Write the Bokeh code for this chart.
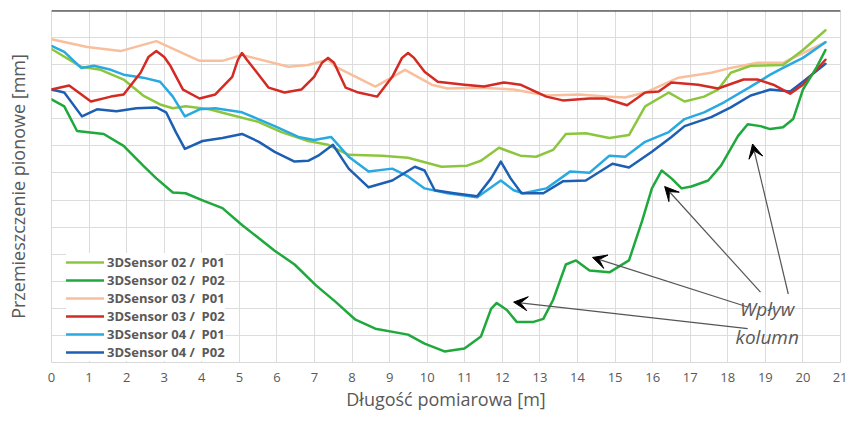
from bokeh.plotting import figure
from bokeh.models import (Legend, LegendItem, Span, Arrow, VeeHead, Label,
                          FixedTicker, Range1d)
from bokeh.embed import file_html
from bokeh.resources import INLINE

# ---------------- data (x in m, y = vertical displacement, one grid step = 1 unit) ----
x_ticks = list(range(0, 22))

s02p01_x = [0, 0.79, 1.31, 1.92, 2.44, 2.89, 3.23, 3.57, 4.20, 4.81, 5.52, 6.12, 6.83, 7.36,
            7.91, 8.80, 9.49, 10.38, 11.06, 11.43, 11.91, 12.48, 12.90, 13.35, 13.69, 14.22,
            14.85, 15.37, 15.80, 16.43, 16.85, 17.37, 17.74, 18.08, 18.61, 19.47, 20.00, 20.6]
s02p01_y = [-1.42, -2.08, -2.19, -2.55, -3.14, -3.47, -3.61, -3.54, -3.65, -3.87, -4.12, -4.49,
            -4.82, -4.96, -5.33, -5.36, -5.44, -5.77, -5.73, -5.55, -5.07, -5.36, -5.40, -5.15,
            -4.56, -4.53, -4.71, -4.60, -3.54, -3.03, -3.36, -3.18, -2.92, -2.30, -2.04, -2.01,
            -1.46, -0.73]

s02p02_x = [0, 0.34, 0.68, 1.39, 1.92, 2.44, 2.79, 3.23, 3.57, 4.02, 4.55, 5.07, 5.94, 6.47,
            7.04, 7.57, 8.09, 8.62, 9.49, 9.93, 10.46, 10.99, 11.43, 11.70, 11.85, 12.12, 12.38,
            12.83, 13.09, 13.35, 13.69, 13.96, 14.32, 14.85, 15.37, 15.72, 15.98, 16.24, 16.50,
            16.77, 17.03, 17.48, 17.82, 18.27, 18.53, 18.87, 19.13, 19.47, 19.74, 20.00, 20.37,
            20.6]
s02p02_y = [-3.28, -3.54, -4.45, -4.56, -5.00, -5.73, -6.20, -6.72, -6.75, -7.01, -7.30, -7.92,
            -8.87, -9.38, -10.15, -10.77, -11.42, -11.75, -11.97, -12.30, -12.59, -12.48, -12.04,
            -11.02, -10.80, -11.06, -11.50, -11.50, -11.39, -10.69, -9.38, -9.23, -9.60, -9.67,
            -9.23, -7.77, -6.57, -5.91, -6.20, -6.57, -6.50, -6.28, -5.73, -4.64, -4.20, -4.27,
            -4.38, -4.31, -4.01, -2.92, -2.08, -1.46]

s03p01_x = [0, 0.95, 1.84, 2.79, 3.94, 4.55, 5.07, 6.31, 6.83, 7.36, 7.57, 8.62, 9.41, 10.12,
            10.54, 11.43, 12.30, 13.17, 14.06, 14.74, 15.27, 15.80, 16.69, 17.56, 18.08, 18.79,
            19.47, 20.00, 20.6]
s03p01_y = [-1.06, -1.35, -1.50, -1.13, -1.86, -1.86, -1.64, -2.08, -2.01, -1.82, -2.08, -2.81,
            -2.19, -2.74, -2.88, -2.85, -2.92, -3.14, -3.10, -3.18, -3.21, -3.03, -2.48, -2.30,
            -2.12, -1.93, -1.93, -1.57, -1.17]

s03p02_x = [0, 0.47, 1.05, 1.58, 1.92, 2.37, 2.58, 2.79, 3.00, 3.15, 3.50, 3.94, 4.36, 4.81,
            4.96, 5.07, 5.20, 5.41, 5.78, 6.20, 6.65, 6.99, 7.20, 7.36, 7.52, 7.83, 8.17, 8.67,
            9.07, 9.33, 9.49, 9.65, 9.93, 10.28, 10.99, 11.51, 12.04, 12.48, 13.17, 13.61, 14.32,
            14.74, 15.32, 15.80, 16.16, 16.50, 17.21, 17.74, 18.42, 18.79, 19.21, 19.66, 20.00,
            20.6]
s03p02_y = [-2.92, -2.77, -3.36, -3.18, -3.10, -2.30, -1.72, -1.50, -1.72, -2.01, -2.92, -3.25,
            -3.10, -2.45, -1.82, -1.57, -1.82, -2.19, -2.85, -3.03, -2.92, -2.45, -1.93, -1.75,
            -1.93, -2.85, -3.03, -3.18, -2.45, -1.75, -1.57, -1.75, -2.26, -2.63, -2.74, -2.81,
            -2.66, -2.74, -3.18, -3.32, -3.25, -3.25, -3.50, -3.03, -2.99, -2.66, -2.74, -2.88,
            -2.55, -2.55, -2.74, -3.07, -2.74, -1.82]

s04p01_x = [0, 0.34, 0.79, 1.13, 1.58, 1.92, 2.44, 2.89, 3.23, 3.55, 3.94, 4.36, 5.07, 5.94,
            6.57, 6.99, 7.44, 7.91, 8.44, 9.07, 9.49, 9.93, 10.54, 11.33, 11.96, 12.30, 12.56,
            13.17, 13.80, 14.32, 14.85, 15.27, 15.80, 16.43, 16.85, 17.37, 17.90, 18.61, 19.13,
            19.47, 20.00, 20.6]
s04p01_y = [-1.31, -1.53, -2.12, -2.04, -2.19, -2.37, -2.48, -2.63, -3.18, -3.91, -3.65, -3.61,
            -3.76, -4.27, -4.67, -4.78, -4.67, -5.40, -5.95, -5.84, -6.13, -6.57, -6.75, -6.90,
            -6.28, -6.64, -6.75, -6.57, -5.95, -5.99, -5.36, -5.40, -4.85, -4.49, -4.01, -3.76,
            -3.39, -2.81, -2.37, -2.12, -1.75, -1.17]

s04p02_x = [0, 0.34, 0.81, 1.21, 1.73, 2.26, 2.79, 3.05, 3.31, 3.55, 4.02, 4.55, 5.07, 5.52,
            5.94, 6.47, 6.83, 7.10, 7.49, 7.91, 8.44, 9.07, 9.67, 9.93, 10.20, 10.72, 11.33,
            11.70, 11.96, 12.22, 12.51, 13.09, 13.61, 14.22, 14.93, 15.37, 15.98, 16.50, 16.85,
            17.56, 18.08, 18.61, 19.13, 19.66, 20.00, 20.6]
s04p02_y = [-2.92, -3.03, -3.91, -3.65, -3.72, -3.61, -3.58, -3.76, -4.49, -5.11, -4.82, -4.71,
            -4.56, -4.85, -5.22, -5.58, -5.55, -5.36, -4.96, -5.84, -6.53, -6.28, -5.77, -5.91,
            -6.64, -6.75, -6.86, -6.20, -5.58, -6.20, -6.75, -6.75, -6.31, -6.28, -5.66, -5.80,
            -5.22, -4.67, -4.27, -3.94, -3.58, -3.14, -2.92, -2.99, -2.63, -1.97]

series_names = ["3DSensor 02 /  P01", "3DSensor 02 /  P02", "3DSensor 03 /  P01",
                "3DSensor 03 /  P02", "3DSensor 04 /  P01", "3DSensor 04 /  P02"]
series_colors = ["#8cc63f", "#1fa83c", "#f9bf9c", "#d32a24", "#29a9e1", "#1c5fb3"]

# annotation "Wpływ kolumn": arrow heads (column locations) and tails
arrow_head_x = [12.30, 14.40, 16.32, 18.66]
arrow_head_y = [-10.77, -9.12, -6.50, -4.93]
arrow_tail_x = [18.53, 18.53, 18.87, 19.61]
arrow_tail_y = [-11.75, -10.95, -10.40, -10.47]
note_lines = ["Wpływ", "kolumn"]
note_x = 19.05
note_y = [-11.02, -12.04]

x_label = "Długość pomiarowa [m]"
y_label = "Przemieszczenie pionowe [mm]"

# ---------------- figure ----------------
FONT = "Open Sans"
GREY = "#595959"

p = figure(frame_width=789, frame_height=352, output_backend="svg", toolbar_location=None,
           x_range=Range1d(0, 21), y_range=Range1d(-13, 0),
           min_border_left=51, min_border_right=7, min_border_top=10, min_border_bottom=0)
p.background_fill_color = "white"
p.border_fill_color = "white"
p.outline_line_color = "#d9d9d9"

# grid
p.xaxis.ticker = FixedTicker(ticks=x_ticks)
p.xgrid.ticker = FixedTicker(ticks=x_ticks)
p.ygrid.ticker = FixedTicker(ticks=list(range(-13, 1)))
p.xgrid.grid_line_color = "#dcdcdc"
p.ygrid.grid_line_color = "#dcdcdc"

# x axis
p.xaxis.axis_line_color = None
p.xaxis.major_tick_line_color = None
p.xaxis.minor_tick_line_color = None
p.xaxis.major_tick_out = 0
p.xaxis.major_tick_in = 0
p.xaxis.major_label_standoff = 10
p.xaxis.major_label_text_font = FONT
p.xaxis.major_label_text_font_size = "13px"
p.xaxis.major_label_text_color = GREY
p.xaxis.axis_label = x_label
p.xaxis.axis_label_text_font = FONT
p.xaxis.axis_label_text_font_size = "18px"
p.xaxis.axis_label_text_font_style = "normal"
p.xaxis.axis_label_text_color = GREY
p.xaxis.axis_label_standoff = 2

# y axis (label only)
p.yaxis.ticker = FixedTicker(ticks=[])
p.yaxis.axis_line_color = None
p.yaxis.major_tick_line_color = None
p.yaxis.minor_tick_line_color = None
p.yaxis.major_tick_out = 0
p.yaxis.major_tick_in = 0
p.yaxis.axis_label = y_label
p.yaxis.axis_label_text_font = FONT
p.yaxis.axis_label_text_font_size = "18px"
p.yaxis.axis_label_text_font_style = "normal"
p.yaxis.axis_label_text_color = GREY
p.yaxis.axis_label_standoff = 22

# horizontal axis line at zero (top)
p.add_layout(Span(location=0, dimension="width", line_color="#1a1a1a", line_width=2))

# series
xs = [s02p01_x, s02p02_x, s03p01_x, s03p02_x, s04p01_x, s04p02_x]
ys = [s02p01_y, s02p02_y, s03p01_y, s03p02_y, s04p01_y, s04p02_y]
draw_order = [2, 0, 4, 5, 3, 1]
renderers = {}
for i in draw_order:
    renderers[i] = p.line(xs[i], ys[i], line_color=series_colors[i], line_width=2.5,
                          line_join="round", line_cap="round")

legend = Legend(items=[LegendItem(label=series_names[i], renderers=[renderers[i]])
                       for i in range(6)],
                location=(15, 1), orientation="vertical",
                glyph_width=38, glyph_height=18, label_height=18, spacing=0,
                label_standoff=3, padding=5, margin=0,
                label_text_font=FONT, label_text_font_size="13px",
                label_text_font_style="bold", label_text_color=GREY,
                background_fill_color="white", background_fill_alpha=1.0,
                border_line_color=None)
p.add_layout(legend)

# annotation arrows
for hx, hy, tx, ty in zip(arrow_head_x, arrow_head_y, arrow_tail_x, arrow_tail_y):
    p.add_layout(Arrow(end=VeeHead(size=14, fill_color="black", line_color="black"),
                       x_start=tx, y_start=ty, x_end=hx, y_end=hy,
                       line_color="#555555", line_width=1.2))

for txt, ny in zip(note_lines, note_y):
    p.add_layout(Label(x=note_x, y=ny, text=txt, text_align="center", text_baseline="middle",
                       text_font=FONT, text_font_size="19px", text_font_style="italic",
                       text_color=GREY))

open("out.html", "w").write(file_html(p, INLINE))
